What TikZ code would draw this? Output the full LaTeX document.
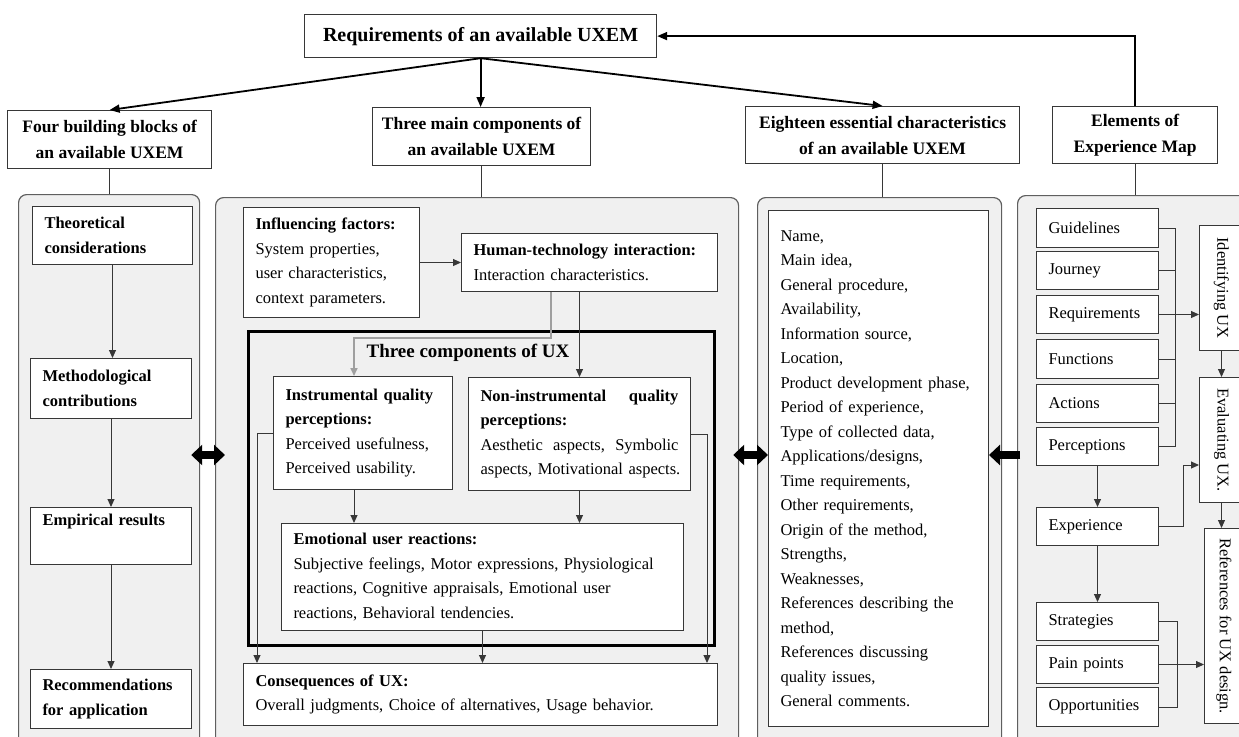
\documentclass[tikz,border=0pt]{standalone}
\usepackage{fontspec}
\setmainfont{Liberation Serif}
\usetikzlibrary{arrows.meta,calc}
\definecolor{panelgray}{RGB}{240,240,240}
\definecolor{edgegray}{RGB}{95,95,95}
\definecolor{boxline}{RGB}{55,55,55}
\newcommand\uxbody{\fontsize{16.5}{24.5}\selectfont}
\newcommand\uxhead{\fontsize{17.5}{26}\selectfont\bfseries}
\newcommand\uxtop{\fontsize{20}{24}\selectfont\bfseries}
\tikzset{
  panel/.style={draw=edgegray, fill=panelgray, line width=1.2pt, rounded corners=8pt, anchor=north west, inner sep=0pt},
  headbox/.style={draw=boxline, fill=white, line width=1.2pt, anchor=north west, inner sep=0pt, align=center, font=\uxhead},
  box/.style={draw=boxline, fill=white, line width=1pt, anchor=north west, inner xsep=12pt, inner ysep=0pt, align=left, font=\uxbody},
  smallbox/.style={box, minimum width=122pt, text width=98pt, minimum height=38pt},
  sidebox/.style={draw=boxline, fill=white, line width=1pt, anchor=north west, inner sep=0pt, font=\uxbody},
  link/.style={draw=boxline, line width=1pt},
  arr/.style={draw=boxline, line width=1pt, -{Triangle[length=8pt,width=7pt]}},
  toparr/.style={line width=1.8pt, -{Triangle[length=10pt,width=8pt]}},
  dblarr/.style={line width=8pt, {Triangle[length=11pt,width=20pt]}-{Triangle[length=11pt,width=20pt]}},
  leftarr/.style={line width=8pt, -{Triangle[length=11pt,width=20pt]}},
}

\begin{document}
\begin{tikzpicture}[x=1pt,y=1pt,yscale=-1,xscale=1]
\useasboundingbox (0,0) rectangle (1239,736);
\clip (0,0) rectangle (1239,736);

%Shape: top box
\node[headbox, font=\uxtop, minimum width=352pt, minimum height=43pt] (req) at (304,14) {Requirements of an available UXEM};

%Shape: second row
\node[headbox, minimum width=204pt, minimum height=58pt] (four) at (7,110) {Four building blocks of\\an available UXEM};
\node[headbox, minimum width=218pt, minimum height=58pt] (three) at (372,107) {Three main components of\\an available UXEM};
\node[headbox, minimum width=274pt, minimum height=57pt] (eighteen) at (745,106) {Eighteen essential characteristics\\of an available UXEM};
\node[headbox, minimum width=165pt, minimum height=57pt] (elem) at (1052,106) {Elements of\\Experience Map};

%Shape: panels
\node[panel, minimum width=181pt, minimum height=580pt] (p1) at (18,194) {};
\node[panel, minimum width=523pt, minimum height=580pt] (p2) at (215,197) {};
\node[panel, minimum width=244pt, minimum height=580pt] (p3) at (757,197) {};
\node[panel, minimum width=260pt, minimum height=580pt] (p4) at (1017,195) {};

%Straight Lines: top arrows
\draw[toparr] (req.south) -- (four.north);
\draw[toparr] (req.south) -- (req.south |- three.north);
\draw[toparr] (req.south) -- (eighteen.north);
\draw[toparr] (elem.north) |- (req.east);

\draw[link] (four.south) -- (four.south |- p1.north);
\draw[link] (three.south) -- (three.south |- p2.north);
\draw[link] (eighteen.south) -- (eighteen.south |- p3.north);
\draw[link] (elem.south) -- (elem.south |- p4.north);

% building blocks
\node[box, font=\uxbody\bfseries, text width=136pt, minimum height=58pt] (theo) at (32,206) {Theoretical\\considerations};
\node[box, font=\uxbody\bfseries, text width=137pt, minimum height=60pt] (meth) at (30,358) {Methodological\\contributions};
\node[box, font=\uxbody\bfseries, text width=137pt, minimum height=57pt] (emp) at (30,507) {Empirical results\\\strut};
\node[box, font=\uxbody\bfseries, text width=137pt, minimum height=59pt] (rec) at (30,669) {Recommendations\\for application};
\draw[arr] (theo.south) -- (theo.south |- meth.north);
\draw[arr] (meth.south) -- (meth.south |- emp.north);
\draw[arr] (emp.south) -- (emp.south |- rec.north);

% main components
\node[box, text width=152pt, minimum height=110pt] (infl) at (243,207) {\textbf{Influencing factors:}\\System properties,\\user characteristics,\\context parameters.};
\node[box, text width=232pt, minimum height=58pt] (hti) at (461,233) {\textbf{Human-technology interaction:}\\Interaction characteristics.};
\node[draw=black, line width=3pt, anchor=north west, inner sep=0pt, minimum width=466pt, minimum height=314pt] (ux) at (247,330) {};
\node[font=\fontsize{19}{22}\selectfont\bfseries] (uxtitle) at (468,353) {Three components of UX};
\node[box, text width=155pt, minimum height=113pt] (instr) at (273,376) {\textbf{Instrumental quality}\\\textbf{perceptions:}\\Perceived usefulness,\\Perceived usability.};
\node[box, text width=198pt, minimum height=113pt] (noni) at (468,377) {\textbf{Non-instrumental}\hfill\textbf{quality}\\\textbf{perceptions:}\\Aesthetic\hfill aspects,\hfill Symbolic\\\mbox{aspects, Motivational aspects.}};
\node[box, text width=378pt, minimum height=107pt] (emo) at (281,523) {\textbf{Emotional user reactions:}\\Subjective feelings, Motor expressions, Physiological\\reactions, Cognitive appraisals, Emotional user\\reactions, Behavioral tendencies.};
\node[box, text width=450pt, minimum height=62pt] (cons) at (243,663) {\textbf{Consequences of UX:}\\Overall judgments, Choice of alternatives, Usage behavior.};

\draw[arr] (infl.east) -- (infl.east -| hti.west);
\draw[arr, draw=gray!75, line width=1.6pt] ($(hti.south west)+(90,0)$) -- ++(0,46) -| ($(instr.north)+(-9,0)$);
\draw[arr] (hti.south -| noni.north) -- (noni.north);
\draw[arr] ($(instr.south)+(-9,0)$) -- ($(instr.south |- emo.north)+(-9,0)$);
\draw[arr] (noni.south) -- (noni.south |- emo.north);
\draw[arr] (emo.south) -- (emo.south |- cons.north);
\draw[arr] (instr.west) -| ($(cons.north west)+(14,0)$);
\draw[arr] (noni.east) -| ($(cons.north east)+(-11,0)$);

% characteristics
\node[box, text width=196pt, minimum height=516pt] (list) at (768,210) {Name,\\Main idea,\\General procedure,\\Availability,\\Information source,\\Location,\\Product development phase,\\Period of experience,\\Type of collected data,\\Applications/designs,\\Time requirements,\\Other requirements,\\Origin of the method,\\Strengths,\\Weaknesses,\\References describing the\\method,\\References discussing\\quality issues,\\General comments.};

% experience map
\node[smallbox, minimum height=39pt] (guid) at (1036,208) {Guidelines};
\node[smallbox] (jour) at (1036,251) {Journey};
\node[smallbox] (reqs) at (1036,295) {Requirements};
\node[smallbox, minimum height=39pt] (func) at (1036,339) {Functions};
\node[smallbox] (act) at (1036,384) {Actions};
\node[smallbox] (perc) at (1036,427) {Perceptions};
\node[smallbox] (exp) at (1036,507) {Experience};
\node[smallbox] (strat) at (1036,602) {Strategies};
\node[smallbox] (pain) at (1036,645) {Pain points};
\node[smallbox, minimum height=39pt] (opp) at (1036,687) {Opportunities};
\node[sidebox, minimum width=44pt, minimum height=125pt] (iden) at (1199,225) {\rotatebox{-90}{Identifying UX}};
\node[sidebox, minimum width=44pt, minimum height=125pt] (eval) at (1199,377) {\rotatebox{-90}{Evaluating UX.}};
\node[sidebox, minimum width=39pt, minimum height=195pt] (refs) at (1204,528) {\rotatebox{-90}{References for UX design.}};

\coordinate (busA) at (1175,0);
\coordinate (busB) at (1177,0);
\draw[link] (guid.east) -| (busA |- perc.east) -- (perc.east);
\foreach \b in {jour,reqs,func,act}
  \draw[link] (\b.east) -- (\b.east -| busA);
\draw[arr] (reqs.east -| busA) -- (reqs.east -| iden.west);
\draw[arr] (iden.south) -- (iden.south |- eval.north);
\draw[arr] (perc.south) -- (exp.north);
\draw[arr] (exp.south) -- (strat.north);
\coordinate (evin) at ($(eval.south west)+(0,-38)$);
\draw[arr] (exp.east) -- ++(24,0) |- (evin);
\draw[arr] (eval.south) -- (eval.south |- refs.north);
\draw[link] (strat.east) -| (busB |- opp.east) -- (opp.east);
\draw[arr] (pain.east) -- (pain.east -| refs.west);

% block arrows between panels
\coordinate (dbl) at (0,455);
\draw[dblarr] ($(p1.east |- dbl)+(-9,0)$) -- ($(p2.west |- dbl)+(10,0)$);
\draw[dblarr] ($(p2.east |- dbl)+(-6,0)$) -- (list.west |- dbl);
\draw[leftarr] ($(p4.west |- dbl)+(3,0)$) -- (list.east |- dbl);

\end{tikzpicture}
\end{document}
